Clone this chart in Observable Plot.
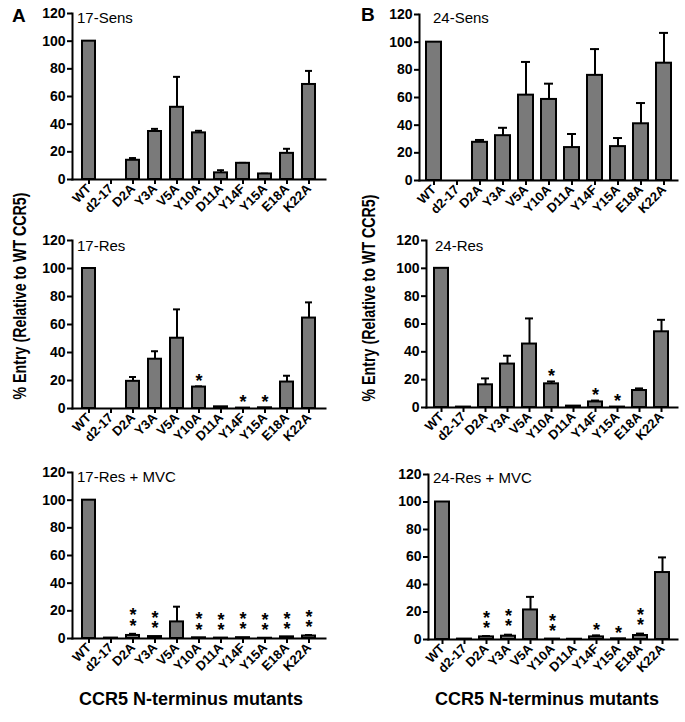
<!DOCTYPE html>
<html>
<head>
<meta charset="utf-8">
<script src="https://cdn.jsdelivr.net/npm/d3@7"></script>
<script src="https://cdn.jsdelivr.net/npm/@observablehq/plot@0.6"></script>
<style>
  html, body { margin: 0; padding: 0; background: #fff; }
  #root { position: relative; width: 685px; height: 722px; overflow: hidden; font-family: "Liberation Sans", Arial, sans-serif; color: #000; }
  .abs { position: absolute; white-space: nowrap; line-height: 1; }
  .panel { position: absolute; }
  .ptitle { font-size: 15px; font-weight: normal; }
  .letter { font-size: 19px; font-weight: bold; }
  .xtitle { font-size: 18px; font-weight: bold; }
  .ytitle { font-size: 18px; font-weight: bold; transform: translate(-50%, -50%) rotate(-90deg) scaleX(0.79); }
</style>
</head>
<body>
<div id="root"></div>
<script>
// ---------- DATA ----------
const categories = ["WT","d2-17","D2A","Y3A","V5A","Y10A","D11A","Y14F","Y15A","E18A","K22A"];
const yTicks = [0, 20, 40, 60, 80, 100, 120];

const sens17    = [100, 0, 13.9, 34.7, 52.2, 33.7, 4.8, 11.7, 4.0, 18.9, 68.7];
const sens17Err = [0, 0, 1.6, 1.9, 22.0, 1.5, 1.9, 0.3, 0.2, 3.3, 9.8];
const sens17Sig = ["","","","","","","","","","",""];

const sens24    = [100, 0, 27.6, 32.4, 61.7, 58.6, 23.8, 76.0, 24.5, 41.0, 84.8];
const sens24Err = [0, 0, 1.7, 5.7, 24.0, 11.4, 9.8, 19.0, 6.2, 15.0, 21.9];
const sens24Sig = ["","","","","","","","","","",""];

const res17    = [100, 0, 19.4, 35.2, 50.2, 15.3, 1.2, 0.3, 0.5, 18.9, 64.6];
const res17Err = [0, 0, 3.1, 5.7, 20.6, 0.5, 0, 0, 0, 4.5, 11.2];
const res17Sig = ["","","","","","*","","*","*","",""];

const res24    = [100, 0.3, 16.3, 31.2, 45.6, 17.0, 1.0, 4.0, 0.3, 12.2, 54.4];
const res24Err = [0, 0, 4.6, 6.0, 18.4, 1.7, 0, 1.0, 0, 1.5, 8.6];
const res24Sig = ["","","","","","*","","*","*","",""];

const mvc17    = [100, 0.3, 2.2, 1.4, 12.0, 0.5, 0.3, 0.6, 0.2, 1.2, 1.8];
const mvc17Err = [0, 0, 1.2, 0, 11.0, 0, 0, 0, 0, 0, 0.7];
const mvc17Sig = ["","","**","**","","**","**","**","**","**","**"];

const mvc24    = [100, 0.3, 1.9, 2.4, 21.5, 0.3, 0.2, 1.9, 0.5, 2.9, 48.7];
const mvc24Err = [0, 0, 0.6, 1.1, 9.5, 0, 0, 1.1, 0, 1.4, 11.0];
const mvc24Sig = ["","","**","**","","**","","*","*","**",""];

const panelTitles = ["17-Sens","24-Sens","17-Res","24-Res","17-Res + MVC","24-Res + MVC"];
const panelLetters = ["A","B"];
const yTitle = "% Entry (Relative to WT CCR5)";
const xTitle = "CCR5 N-terminus mutants";

// ---------- LAYOUT ----------
const root = document.getElementById("root");
const FONT = '"Liberation Sans", Arial, sans-serif';
const BAR = "#7a7a7a";

function rows(vals, errs, sig) {
  return categories.map((c, i) => ({cat: c, v: vals[i], e: errs[i], top: vals[i] + errs[i], sig: sig[i]}));
}

function panel(cfg) {
  const data = rows(cfg.vals, cfg.errs, cfg.sig);
  const p = Plot.plot({
    width: cfg.width, height: cfg.height,
    marginLeft: cfg.xl - cfg.left, marginRight: cfg.left + cfg.width - cfg.xr,
    marginTop: cfg.y120 - cfg.top, marginBottom: cfg.top + cfg.height - cfg.y0,
    style: {fontFamily: FONT, fontSize: "14px", fontWeight: "bold", color: "#000", background: "transparent", overflow: "visible"},
    x: {domain: categories, paddingInner: cfg.pi, paddingOuter: 0.28, label: null},
    y: {domain: [0, 120], label: null},
    marks: [
      Plot.ruleX(data.filter(d => d.e > 0), {x: "cat", y1: "v", y2: "top", stroke: "#000", strokeWidth: 2}),
      Plot.tickY(data.filter(d => d.e > 0), {x: "cat", y: "top", stroke: "#000", strokeWidth: 2, insetLeft: 3, insetRight: 3}),
      Plot.barY(data, {x: "cat", y: "v", fill: BAR, stroke: "#000", strokeWidth: 2}),
      Plot.text(data.filter(d => d.sig.length === 1), {x: "cat", y: "top", text: "sig", dy: -5.5, fontSize: 18, fontWeight: "bold"}),
      Plot.text(data.filter(d => d.sig.length === 2), {x: "cat", y: "top", text: d => d.sig.split("").join("\n"), lineHeight: 0.56, dy: -10.5, fontSize: 18, fontWeight: "bold"}),
      Plot.frame({anchor: "left", stroke: "#000", strokeWidth: 2}),
      Plot.frame({anchor: "bottom", stroke: "#000", strokeWidth: 2}),
      Plot.axisY({ticks: yTicks, tickSize: 5, tickPadding: 2, strokeWidth: 2, label: null, fontWeight: "bold", fontSize: 14}),
      Plot.axisX({tickSize: 5, tickPadding: 2, tickRotate: -45, strokeWidth: 2, label: null, fontWeight: "bold", fontSize: 13})
    ]
  });
  const wrap = document.createElement("div");
  wrap.className = "panel";
  wrap.style.left = cfg.left + "px";
  wrap.style.top = cfg.top + "px";
  wrap.appendChild(p);
  root.appendChild(wrap);

  addText(panelTitles[cfg.t], "ptitle", cfg.tx, cfg.tb - 12.7);
}

function addText(txt, cls, x, y) {
  const d = document.createElement("div");
  d.className = "abs " + cls;
  d.textContent = txt;
  d.style.left = x + "px";
  d.style.top = y + "px";
  root.appendChild(d);
  return d;
}

panel({t: 0, vals: sens17, errs: sens17Err, sig: sens17Sig, left: 0, top: 0, width: 340, height: 225, xl: 72, xr: 325, y120: 13, y0: 179, pi: 0.42, tx: 77, tb: 22.5});
panel({t: 1, vals: sens24, errs: sens24Err, sig: sens24Sig, left: 340, top: 0, width: 345, height: 225, xl: 419, xr: 677, y120: 14, y0: 180, pi: 0.36, tx: 433, tb: 23});
panel({t: 2, vals: res17, errs: res17Err, sig: res17Sig, left: 0, top: 225, width: 340, height: 235, xl: 72, xr: 325, y120: 240, y0: 408, pi: 0.42, tx: 77, tb: 251});
panel({t: 3, vals: res24, errs: res24Err, sig: res24Sig, left: 340, top: 225, width: 345, height: 235, xl: 426, xr: 677, y120: 240, y0: 407, pi: 0.36, tx: 435, tb: 250.7});
panel({t: 4, vals: mvc17, errs: mvc17Err, sig: mvc17Sig, left: 0, top: 460, width: 340, height: 225, xl: 72, xr: 325, y120: 472, y0: 638, pi: 0.42, tx: 77, tb: 481.7});
panel({t: 5, vals: mvc24, errs: mvc24Err, sig: mvc24Sig, left: 340, top: 460, width: 345, height: 225, xl: 428, xr: 677, y120: 474, y0: 639, pi: 0.36, tx: 433, tb: 483});

addText(panelLetters[0], "letter", 12, 22 - 16);
addText(panelLetters[1], "letter", 361, 21 - 16);

addText(yTitle, "ytitle", 20, 296);
addText(yTitle, "ytitle", 369, 298);

const xl = addText(xTitle, "xtitle", 191, 690);
xl.style.transform = "translateX(-50%)";
const xr = addText(xTitle, "xtitle", 547, 690);
xr.style.transform = "translateX(-50%)";
</script>
</body>
</html>
